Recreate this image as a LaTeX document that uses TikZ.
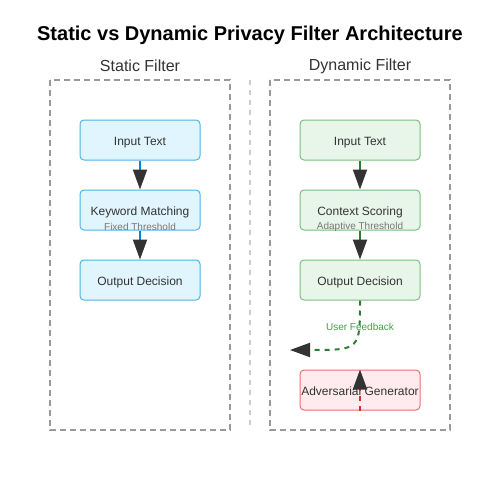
\documentclass[tikz,border=0pt]{standalone}
\usepackage{fontspec}
\setmainfont{Liberation Sans}
\usetikzlibrary{arrows.meta}
\definecolor{txt}{HTML}{333333}
\definecolor{panel}{HTML}{999999}
\definecolor{divc}{HTML}{CCCCCC}
\definecolor{bfill}{HTML}{E1F5FE}
\definecolor{bdraw}{HTML}{4FB3E8}
\definecolor{bline}{HTML}{0288D1}
\definecolor{gfill}{HTML}{E8F5E9}
\definecolor{gdraw}{HTML}{7CBF7F}
\definecolor{gline}{HTML}{2E7D32}
\definecolor{glabel}{HTML}{43A047}
\definecolor{rfill}{HTML}{FFEBEE}
\definecolor{rdraw}{HTML}{E57373}
\definecolor{rline}{HTML}{D32F2F}
\definecolor{sub}{HTML}{777777}
\tikzset{
  x=1pt,y=-1pt,
  panelbox/.style={draw=panel,line width=1.5pt,dash pattern=on 6pt off 4pt},
  proc/.style={rounded corners=4pt,minimum width=120pt,minimum height=40pt,inner sep=0pt,line width=1pt,font=\fontsize{12}{14}\selectfont,text=txt,text height=11.4pt,text depth=0pt},
  bluebox/.style={proc,fill=bfill,draw=bdraw},
  greenbox/.style={proc,fill=gfill,draw=gdraw},
  redbox/.style={proc,fill=rfill,draw=rdraw},
  tip/.style={-{Triangle[length=20pt,width=14pt,color=txt]}},
  subtxt/.style={font=\fontsize{10}{12}\selectfont,text=sub},
}
\begin{document}
\begin{tikzpicture}
\useasboundingbox (0,0) rectangle (500,500);
\fill[white] (0,0) rectangle (500,500);
\node[font=\bfseries\fontsize{20}{24}\selectfont] (title) at (250,35) {Static vs Dynamic Privacy Filter Architecture};
\node[font=\fontsize{16}{19}\selectfont,text=txt] (lt) at (140,66) {Static Filter};
\node[font=\fontsize{16}{19}\selectfont,text=txt] (rt) at (360,66) {Dynamic Filter};
\draw[panelbox] (50,80) rectangle (230,430);
\draw[panelbox] (270,80) rectangle (450,430);
\draw[divc,line width=1.5pt,dash pattern=on 5pt off 5pt] (250,80) -- (250,430);
% static
\node[bluebox] (s1) at (140,140) {Input Text};
\node[bluebox] (s2) at (140,210) {Keyword Matching};
\node[bluebox] (s3) at (140,280) {Output Decision};
\draw[bline,line width=2pt,tip] (s1.south) -- (s2.north);
\draw[bline,line width=2pt,tip] (s2.south) -- (s3.north);
\node[subtxt] (s2sub) at (140,226.5) {Fixed Threshold};
% dynamic
\node[greenbox] (d1) at (360,140) {Input Text};
\node[greenbox] (d2) at (360,210) {Context Scoring};
\node[greenbox] (d3) at (360,280) {Output Decision};
\node[redbox] (adv) at (360,390) {Adversarial Generator};
\draw[gline,line width=2pt,tip] (d1.south) -- (d2.north);
\draw[gline,line width=2pt,tip] (d2.south) -- (d3.north);
\node[subtxt] (d2sub) at (360,226.5) {Adaptive Threshold};
\coordinate (fb) at (290,350);
\draw[gline,line width=2pt,dash pattern=on 5pt off 5pt,tip] (d3.south) .. controls (360,350) .. (fb);
\node[font=\fontsize{10}{12}\selectfont,text=glabel] (fbl) at (360,327) {User Feedback};
\draw[rline,line width=2pt,dash pattern=on 5pt off 5pt,tip] (adv.south) -- (adv.north);
\end{tikzpicture}
\end{document}
